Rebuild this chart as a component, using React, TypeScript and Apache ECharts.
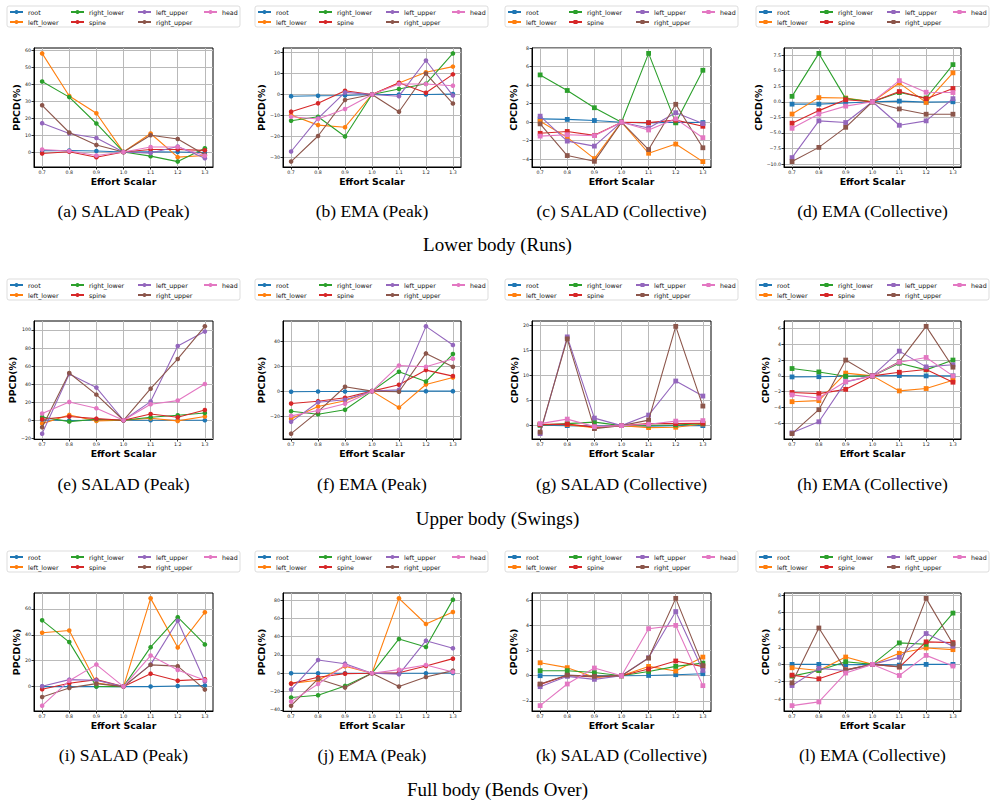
import React, { useEffect, useRef } from "react";
import * as echarts from "echarts";

// Effort scalar values shared by every panel (x axis)
const EFFORT = [0.7, 0.8, 0.9, 1.0, 1.1, 1.2, 1.3];

// Joints, in plotting order, with their line colours
const JOINTS = ["root", "left_lower", "right_lower", "spine", "left_upper", "right_upper", "head"];
const JOINT_COLORS = ["#1f77b4", "#ff7f0e", "#2ca02c", "#d62728", "#9467bd", "#8c564b", "#e377c2"];

// Each list holds one row per joint (JOINTS order), one value per effort scalar.
// Lower body (Runs)
const runsSaladPeak = [
  [0.8, 0.9, 0.6, 0, 0.1, 0, -0.3],
  [58.0, 33.0, 22.8, 0, 10.9, -3.0, -2.0],
  [41.5, 32.3, 16.8, 0, -2.4, -5.6, 2.2],
  [-0.8, 0.2, -3.0, 0, 1.5, 1.5, 1.0],
  [17.0, 10.9, 8.3, 0, -0.6, 3.3, -3.6],
  [27.5, 11.5, 4.2, 0, 9.9, 7.7, -1.6],
  [1.5, 0.6, -2.0, 0, 3.0, 3.0, -2.2],
];
const runsEmaPeak = [
  [-0.8, -0.6, -0.5, 0, 0, 0, 0.2],
  [-9.8, -14.6, -15.6, 0, 5.5, 10.6, 13.3],
  [-12.5, -10.6, -20.0, 0, 2.6, 5.1, 19.6],
  [-8.2, -4.2, 1.8, 0, 5.6, 0.8, 9.6],
  [-27.2, -11.4, 1.0, 0, -0.8, 16.2, -0.5],
  [-32.0, -19.8, -2.6, 0, -8.2, 10.0, -4.3],
  [-10.6, -11.7, -6.9, 0, 5.0, 5.0, 4.2],
];
const runsSaladColl = [
  [0.36, 0.3, 0.18, 0, -0.07, 0.0, -0.04],
  [0.1, -1.64, -3.93, 0, -3.35, -2.36, -4.25],
  [5.1, 3.42, 1.56, 0, 7.42, -0.07, 5.6],
  [-1.2, -1.0, -1.42, 0, -0.05, 0.22, -0.44],
  [0.65, -2.04, -2.58, 0, -0.62, 1.02, -0.15],
  [-0.18, -3.6, -4.22, 0, -2.95, 1.93, -2.76],
  [-1.5, -1.35, -1.45, 0, -0.84, 0.36, -1.67],
];
const runsEmaColl = [
  [-0.38, -0.38, -0.2, 0, 0.1, -0.05, 0.0],
  [-1.97, 0.66, 0.6, 0, 3.0, -0.1, 4.64],
  [0.87, 7.76, 0.5, 0, 1.48, 0.6, 5.96],
  [-3.44, -1.42, 0.33, 0, 1.64, 0.5, 2.13],
  [-8.96, -3.06, -3.33, 0, -3.77, -3.06, 0.5],
  [-9.6, -7.32, -4.1, 0, -1.15, -2.0, -2.0],
  [-4.26, -1.97, -0.7, 0, 3.39, 1.53, 1.48],
];

// Upper body (Swings)
const swingsSaladPeak = [
  [0.3, -0.2, 0.1, 0, 0.1, 0, 0],
  [-3.7, 5.9, -0.7, 0, 2.2, -0.7, 4.1],
  [3.7, -1.5, 1.1, 0, 3.3, 5.5, 8.1],
  [1.1, 4.1, 1.8, 0, 7.0, 3.3, 11.4],
  [-14.8, 51.3, 36.2, 0, 20.7, 82.3, 98.2],
  [-7.7, 52.4, 28.4, 0, 35.0, 67.9, 104.0],
  [7.4, 20.3, 13.3, 0, 17.7, 21.8, 40.2],
];
const swingsEmaPeak = [
  [-0.5, -0.3, -0.3, 0, 0, 0, 0],
  [-22.1, -12.3, -7.7, 0, -13.1, 5.3, 10.9],
  [-16.0, -18.4, -14.9, 0, 15.5, 7.7, 29.6],
  [-9.9, -8.0, -5.3, 0, 5.1, 16.8, 12.0],
  [-24.5, -8.8, -6.9, 0, 1.1, 51.7, 36.8],
  [-33.9, -16.3, 3.5, 0, -0.5, 30.1, 19.5],
  [-19.7, -15.5, -10.1, 0, 20.5, 19.5, 25.9],
];
const swingsSaladColl = [
  [0.1, 0.0, -0.1, 0, -0.1, 0, 0],
  [0.25, 0.2, -0.4, 0, -0.4, -0.33, 0.33],
  [0.1, 0.4, 0.7, 0, 0.07, 0.13, 0.4],
  [0.2, 0.3, -0.3, 0, 0.4, 0.4, 0.47],
  [-1.6, 17.7, 1.5, 0, 2.1, 8.9, 5.9],
  [-1.3, 17.3, -0.6, 0, 1.1, 19.8, 3.9],
  [0.4, 1.3, -0.2, 0, 0.27, 0.9, 1.0],
];
const swingsEmaColl = [
  [-0.13, -0.1, -0.05, 0, 0.04, 0, 0],
  [-3.26, -3.13, 0.35, 0, -1.9, -1.6, -0.55],
  [0.93, 0.5, -0.05, 0, 1.6, 0.76, 2.0],
  [-2.1, -2.24, -1.7, 0, 0.46, 0.8, -0.8],
  [-7.2, -5.8, -0.76, 0, 3.13, 1.14, 1.4],
  [-7.3, -4.27, 2.0, 0, 1.8, 6.26, 1.1],
  [-2.4, -2.79, -0.72, 0, 1.73, 2.33, 0.0],
];

// Full body (Bends Over)
const bendsSaladPeak = [
  [0, 0, 0, 0, 0, 0.5, 0.8],
  [41.6, 43.4, 2.8, 0, 68.2, 30.2, 57.4],
  [51.2, 34.4, 0.1, 0, 30.5, 53.7, 32.6],
  [-2.0, 2.6, 5.4, 0, 10.0, 4.6, 5.7],
  [0.3, 5.4, 4.9, 0, 17.0, 50.9, 3.9],
  [-8.0, -1.0, 2.3, 0, 16.8, 15.8, -2.3],
  [-14.7, 4.6, 17.0, 0, 24.0, 12.9, 4.9],
];
const bendsEmaPeak = [
  [0, 0, 0, 0, 0, 0, 0.4],
  [-11.0, -7.6, 7.6, 0, 81.8, 53.8, 66.9],
  [-26.5, -24.0, -13.8, 0, 37.5, 28.7, 80.4],
  [-11.3, -4.4, -0.4, 0, 0.5, 8.0, 16.0],
  [-17.8, 14.5, 10.5, 0, -1.1, 35.6, 27.3],
  [-35.3, -6.2, -15.6, 0, -14.5, -4.0, 2.9],
  [-30.9, -11.6, 8.7, 0, 4.0, 9.1, 1.5],
];
const bendsSaladColl = [
  [0.0, 0.0, 0.0, 0, 0.02, 0.08, 0.16],
  [1.03, 0.64, -0.13, 0, 0.74, 0.37, 1.48],
  [0.4, 0.4, 0.26, 0, 0.34, 0.74, 1.0],
  [-0.69, 0.02, -0.1, 0, 0.53, 1.17, 0.72],
  [-0.87, -0.05, -0.29, 0, 1.43, 5.1, 0.42],
  [-0.66, 0.05, -0.05, 0, 1.4, 6.15, 0.8],
  [-2.38, -0.66, 0.61, 0, 3.74, 4.0, -0.79],
];
const bendsEmaColl = [
  [0, 0, -0.04, 0, -0.08, 0, 0],
  [-0.39, -0.7, 0.85, 0, 1.28, 1.9, 1.7],
  [-1.35, -0.7, 0.31, 0, 2.48, 2.32, 5.92],
  [-1.24, -1.66, -0.62, 0, -0.31, 2.6, 2.51],
  [-2.44, -0.46, -0.7, 0, 0.81, 3.56, 2.1],
  [-2.13, 4.2, -0.66, 0, -0.27, 7.62, 2.36],
  [-4.76, -4.33, -1.0, 0, -1.28, 1.04, -0.19],
];

// Y tick values per panel
const runsTicks = [
  [0, 10, 20, 30, 40, 50, 60],
  [-30, -20, -10, 0, 10, 20],
  [-4, -2, 0, 2, 4, 6, 8],
  [-10, -7.5, -5, -2.5, 0, 2.5, 5, 7.5],
];
const swingsTicks = [
  [-20, 0, 20, 40, 60, 80, 100],
  [-20, 0, 20, 40],
  [0, 5, 10, 15, 20],
  [-6, -4, -2, 0, 2, 4, 6],
];
const bendsTicks = [
  [0, 20, 40, 60],
  [-40, -20, 0, 20, 40, 60, 80],
  [-2, 0, 2, 4, 6],
  [-4, -2, 0, 2, 4, 6, 8],
];

const PANEL_DATA = [
  [runsSaladPeak, runsEmaPeak, runsSaladColl, runsEmaColl],
  [swingsSaladPeak, swingsEmaPeak, swingsSaladColl, swingsEmaColl],
  [bendsSaladPeak, bendsEmaPeak, bendsSaladColl, bendsEmaColl],
];
const PANEL_TICKS = [runsTicks, swingsTicks, bendsTicks];

const CAPTIONS = [
  ["(a) SALAD (Peak)", "(b) EMA (Peak)", "(c) SALAD (Collective)", "(d) EMA (Collective)"],
  ["(e) SALAD (Peak)", "(f) EMA (Peak)", "(g) SALAD (Collective)", "(h) EMA (Collective)"],
  ["(i) SALAD (Peak)", "(j) EMA (Peak)", "(k) SALAD (Collective)", "(l) EMA (Collective)"],
];
const GROUP_TITLES = ["Lower body (Runs)", "Upper body (Swings)", "Full body (Bends Over)"];
const METRIC_NAMES = ["PPCD(%)", "PPCD(%)", "CPCD(%)", "CPCD(%)"];

// Layout (pixels)
const W = 995;
const H = 807;
const PLOT_LEFT = [34, 283, 532, 784];
const PLOT_RIGHT = [213, 461, 711, 961];
const PLOT_TOP = [48, 321, 593];
const PLOT_BOTTOM = [167, 439, 711];
const LEGEND_ROW_Y = [12, 285, 557];
const LEGEND_BOX_X = [7, 255, 505, 756];
const LEGEND_COL_OFFSET = [2, 63, 130, 196];
const CAPTION_Y = [211, 484, 755];
const GROUP_Y = [244, 518, 789];

const SANS = "DejaVu Sans";
const SERIF = "Liberation Serif";

// legend columns (matplotlib fills columns first with ncol=4)
const LEGEND_COLUMNS = [[0, 1], [2, 3], [4, 5], [6]];

function fmtNum(v: number, dec: number) {
  const s = Math.abs(v).toFixed(dec);
  return v < 0 ? "\u2212" + s : s;
}

function buildOption() {
  const grids: any[] = [];
  const xAxes: any[] = [];
  const yAxes: any[] = [];
  const series: any[] = [];
  const legends: any[] = [];
  const graphics: any[] = [];

  for (let r = 0; r < 3; r++) {
    for (let c = 0; c < 4; c++) {
      const p = r * 4 + c;
      const data = PANEL_DATA[r][c];
      const ticks = PANEL_TICKS[r][c];
      const square = c >= 2;
      const all = data.flat();
      const lo = Math.min(...all);
      const hi = Math.max(...all);
      const pad = (hi - lo) * 0.05;
      const yMin = lo - pad;
      const yMax = hi + pad;
      const visTicks = ticks.filter((t) => t >= yMin && t <= yMax);
      const dec = ticks.some((t) => !Number.isInteger(t)) ? 1 : 0;

      grids.push({
        left: PLOT_LEFT[c],
        top: PLOT_TOP[r],
        width: PLOT_RIGHT[c] - PLOT_LEFT[c],
        height: PLOT_BOTTOM[r] - PLOT_TOP[r],
        show: true,
        borderColor: "#000",
        borderWidth: 1,
        backgroundColor: "transparent",
        containLabel: false,
      });

      xAxes.push({
        type: "value",
        gridIndex: p,
        min: 0.67,
        max: 1.33,
        name: "Effort Scalar",
        nameLocation: "middle",
        nameGap: 10,
        nameTextStyle: { fontFamily: SANS, fontWeight: "bold", fontSize: 9.4, color: "#000" },
        axisLine: { show: true, onZero: false, lineStyle: { color: "#000", width: 1 } },
        axisTick: { show: true, length: 2.5, lineStyle: { color: "#000", width: 0.8 }, customValues: EFFORT },
        axisLabel: {
          customValues: EFFORT,
          formatter: (v: number) => v.toFixed(1),
          fontFamily: SANS,
          fontSize: 4.7,
          margin: 3,
          color: "#222",
        },
        splitLine: { show: true, lineStyle: { color: "#b9b9b9", width: 1 } },
      });

      yAxes.push({
        type: "value",
        gridIndex: p,
        min: yMin,
        max: yMax,
        name: METRIC_NAMES[c],
        nameLocation: "middle",
        nameGap: 13,
        nameTextStyle: { fontFamily: SANS, fontWeight: "bold", fontSize: 9.4, color: "#000" },
        axisLine: { show: true, onZero: false, lineStyle: { color: "#000", width: 1 } },
        axisTick: { show: true, length: 2.5, lineStyle: { color: "#000", width: 0.8 }, customValues: visTicks },
        axisLabel: {
          customValues: visTicks,
          formatter: (v: number) => fmtNum(v, dec),
          fontFamily: SANS,
          fontSize: 4.7,
          margin: 3,
          color: "#222",
        },
        splitLine: { show: true, lineStyle: { color: "#b9b9b9", width: 1 } },
      });

      const suffix = square ? "|sq" : "";
      data.forEach((vals, j) => {
        series.push({
          type: "line",
          name: JOINTS[j] + suffix,
          xAxisIndex: p,
          yAxisIndex: p,
          data: EFFORT.map((x, i) => [x, vals[i]]),
          symbol: square ? "rect" : "circle",
          symbolSize: square ? 4.8 : 4.6,
          showSymbol: true,
          lineStyle: { width: 1.1, color: JOINT_COLORS[j] },
          itemStyle: { color: JOINT_COLORS[j] },
          emphasis: { disabled: true },
          silent: true,
          z: 2 + j,
        });
      });

      // legend frame
      graphics.push({
        type: "rect",
        x: LEGEND_BOX_X[c],
        y: LEGEND_ROW_Y[r] - 6,
        shape: { x: 0, y: 0, width: 233, height: 21, r: 2 },
        style: { fill: "#fff", stroke: "#d4d4d4", lineWidth: 0.8 },
        z: 0,
      });

      LEGEND_COLUMNS.forEach((col, k) => {
        legends.push({
          orient: "vertical",
          left: LEGEND_BOX_X[c] + LEGEND_COL_OFFSET[k],
          top: LEGEND_ROW_Y[r] - 3,
          padding: 0,
          itemGap: 4,
          itemWidth: 13,
          itemHeight: 5,
          selectedMode: false,
          data: col.map((j) => JOINTS[j] + suffix),
          formatter: (name: string) => name.split("|")[0],
          textStyle: { fontFamily: SANS, fontSize: 6.3, lineHeight: 6, color: "#111" },
          z: 10,
        });
      });

      graphics.push({
        type: "text",
        x: (PLOT_LEFT[c] + PLOT_RIGHT[c]) / 2,
        y: CAPTION_Y[r],
        style: {
          text: CAPTIONS[r][c],
          font: `17.5px "${SERIF}"`,
          fill: "#000",
          align: "center",
          verticalAlign: "middle",
          textAlign: "center",
          textVerticalAlign: "middle",
        },
      });
    }
    graphics.push({
      type: "text",
      x: W / 2,
      y: GROUP_Y[r],
      style: {
        text: GROUP_TITLES[r],
        font: `19px "${SERIF}"`,
        fill: "#000",
        align: "center",
        verticalAlign: "middle",
        textAlign: "center",
        textVerticalAlign: "middle",
      },
    });
  }

  return {
    animation: false,
    backgroundColor: "#fff",
    grid: grids,
    xAxis: xAxes,
    yAxis: yAxes,
    legend: legends,
    series,
    graphic: { elements: graphics },
  };
}

export default function App() {
  const ref = useRef<HTMLDivElement>(null);
  useEffect(() => {
    if (!ref.current) return;
    const chart = echarts.init(ref.current, undefined, { renderer: "svg" });
    chart.setOption(buildOption());
    return () => chart.dispose();
  }, []);
  return (
    <div
      ref={ref}
      style={{ position: "absolute", left: 0, top: 0, width: W, height: H, background: "#fff" }}
    />
  );
}
